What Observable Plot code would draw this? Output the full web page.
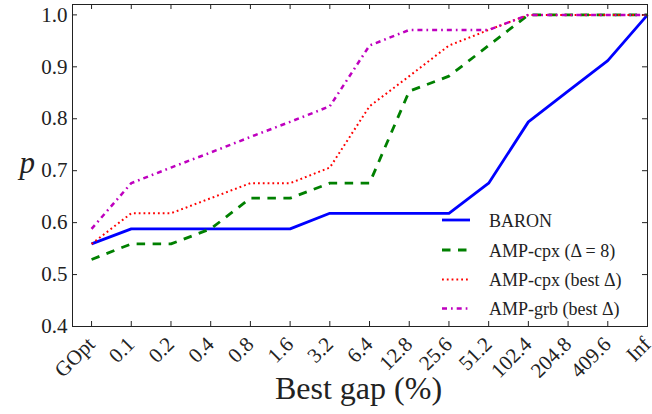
<!DOCTYPE html>
<html>
<head>
<meta charset="utf-8">
<script src="https://cdn.jsdelivr.net/npm/d3@7"></script>
<script src="https://cdn.jsdelivr.net/npm/@observablehq/plot@0.6"></script>
<style>
  html, body { margin: 0; padding: 0; background: #fff; }
  svg { display: block; }
</style>
</head>
<body>
<div id="chart"></div>
<script>
// ---- data ----
const xLabels = ["GOpt","0.1","0.2","0.4","0.8","1.6","3.2","6.4","12.8","25.6","51.2","102.4","204.8","409.6","Inf"];
const baron      = [0.559,0.588,0.588,0.588,0.588,0.588,0.618,0.618,0.618,0.618,0.676,0.794,0.853,0.912,1.000];
const ampCpx8    = [0.529,0.559,0.559,0.588,0.647,0.647,0.676,0.676,0.853,0.882,0.941,1.000,1.000,1.000,1.000];
const ampCpxBest = [0.559,0.618,0.618,0.647,0.676,0.676,0.706,0.824,0.882,0.941,0.971,1.000,1.000,1.000,1.000];
const ampGrbBest = [0.588,0.676,0.706,0.735,0.765,0.794,0.824,0.941,0.971,0.971,0.971,1.000,1.000,1.000,1.000];
const yTicks = [0.4,0.5,0.6,0.7,0.8,0.9,1.0];
const seriesNames = ["BARON","AMP-cpx (\u0394 = 8)","AMP-cpx (best \u0394)","AMP-grb (best \u0394)"];

// ---- styles ----
const FONT = "Liberation Serif";
const W = 652, H = 414, ML = 72, MR = 5, MT = 4, MB = 88;
const innerW = W - ML - MR, innerH = H - MT - MB;
const styles = [
  {color: "#0000ff", width: 2.8, dash: null},
  {color: "#008000", width: 2.8, dash: "8.5,7.5"},
  {color: "#ff0000", width: 2, dash: "1.8,3"},
  {color: "#bf00bf", width: 2.5, dash: "5,4,1.7,4"}
];
const seriesData = [baron, ampCpx8, ampCpxBest, ampGrbBest];
const idx = xLabels.map((_, i) => i);
const ink = "#222";

const lineMarks = seriesData.map((s, k) => Plot.line(idx, {
  x: i => i, y: i => s[i],
  stroke: styles[k].color, strokeWidth: styles[k].width,
  strokeDasharray: styles[k].dash ?? undefined,
  strokeLinejoin: "round", strokeLinecap: "butt"
}));

const chart = Plot.plot({
  width: W, height: H,
  marginLeft: ML, marginRight: MR, marginTop: MT, marginBottom: MB,
  style: {background: "#fff", color: ink},
  x: {type: "linear", domain: [-0.48, xLabels.length - 1], axis: null},
  y: {domain: [0.4, 1.02], axis: null},
  marks: [
    ...lineMarks,
    Plot.frame({stroke: ink, strokeWidth: 1}),
    // inward ticks on all four sides
    Plot.tickY(yTicks, {y: d => d, stroke: ink, insetRight: innerW - 5}),
    Plot.tickY(yTicks, {y: d => d, stroke: ink, insetLeft: innerW - 5}),
    Plot.tickX(idx, {x: d => d, stroke: ink, insetTop: innerH - 5}),
    Plot.tickX(idx, {x: d => d, stroke: ink, insetBottom: innerH - 5}),
    // y tick labels
    Plot.axisY({ticks: yTicks, tickSize: 0, tickPadding: 5, tickFormat: d3.format(".1f"),
      fontSize: 21, fill: ink, label: null}),
    // x tick labels, rotated
    Plot.text(idx, {x: i => i, text: i => xLabels[i], frameAnchor: "bottom",
      rotate: -45, textAnchor: "end", lineAnchor: "bottom", dx: 4.5, dy: 19,
      fontSize: 21, fill: ink}),
    // axis titles
    Plot.text(["Best gap (%)"], {text: d => d, frameAnchor: "bottom", lineAnchor: "bottom",
      dx: -1.5, dy: 72, fontSize: 32, fill: ink}),
    Plot.text(["p"], {text: d => d, frameAnchor: "left", dx: -53, dy: -2,
      fontSize: 31, fontStyle: "italic", fill: ink})
  ]
});

document.getElementById("chart").appendChild(chart);

// ---- legend (inside plot, lower right) ----
const svg = d3.select(chart);
const lg = svg.append("g").attr("class", "legend").attr("text-anchor", "start");
const rowY = [220, 250, 279.5, 308.5];
seriesNames.forEach((name, k) => {
  const y = rowY[k];
  lg.append("line")
    .attr("x1", 442).attr("x2", 470).attr("y1", y).attr("y2", y)
    .attr("stroke", styles[k].color).attr("stroke-width", styles[k].width)
    .attr("stroke-dasharray", styles[k].dash)
    .attr("stroke-linecap", "butt");
  lg.append("text")
    .attr("x", 489).attr("y", y + 6.5)
    .attr("text-anchor", "start")
    .attr("font-size", 18).attr("fill", ink)
    .text(name);
});

// serif face on every text
chart.setAttribute("font-family", FONT);
chart.style.setProperty("font-family", FONT, "important");
chart.querySelectorAll("g, text").forEach(el => {
  el.setAttribute("font-family", FONT);
  el.style.setProperty("font-family", FONT, "important");
});
</script>
</body>
</html>
